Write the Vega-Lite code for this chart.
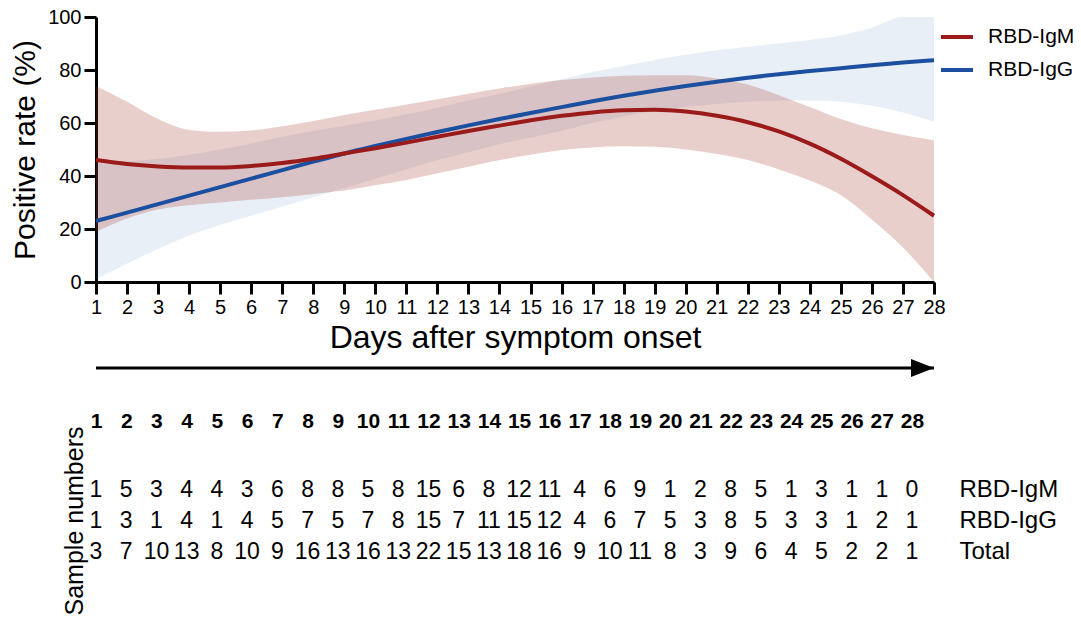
{
  "$schema": "https://vega.github.io/schema/vega-lite/v6.json",
  "padding": {"left": 10, "top": 7, "right": 0, "bottom": 0},
  "config": {
    "font": "Liberation Sans",
    "view": {"stroke": null},
    "axis": {"labelColor": "black", "titleColor": "black", "domainColor": "black", "tickColor": "black", "grid": false}
  },
  "datasets": {
    "days": [
      {"day": 1, "igm": 46, "igmLo": 19, "igmHi": 74, "igg": 23, "iggLo": 1, "iggHi": 45, "igmN": 1, "iggN": 1, "totalN": 3},
      {"day": 2, "igm": 44.5, "igmLo": 24, "igmHi": 68, "igg": 26.2, "iggLo": 7, "iggHi": 45.5, "igmN": 5, "iggN": 3, "totalN": 7},
      {"day": 3, "igm": 43.6, "igmLo": 27.4, "igmHi": 61.5, "igg": 29.4, "iggLo": 12.5, "iggHi": 46.5, "igmN": 3, "iggN": 1, "totalN": 10},
      {"day": 4, "igm": 43.2, "igmLo": 29, "igmHi": 57.4, "igg": 32.6, "iggLo": 17.5, "iggHi": 48, "igmN": 4, "iggN": 4, "totalN": 13},
      {"day": 5, "igm": 43.2, "igmLo": 30, "igmHi": 56.7, "igg": 35.8, "iggLo": 21.5, "iggHi": 50, "igmN": 4, "iggN": 1, "totalN": 8},
      {"day": 6, "igm": 43.8, "igmLo": 31, "igmHi": 57.2, "igg": 39, "iggLo": 25, "iggHi": 52.3, "igmN": 3, "iggN": 4, "totalN": 10},
      {"day": 7, "igm": 44.9, "igmLo": 32, "igmHi": 58.8, "igg": 42.2, "iggLo": 28.5, "iggHi": 54.8, "igmN": 6, "iggN": 5, "totalN": 9},
      {"day": 8, "igm": 46.5, "igmLo": 33.2, "igmHi": 60.8, "igg": 45.4, "iggLo": 32, "iggHi": 57, "igmN": 8, "iggN": 7, "totalN": 16},
      {"day": 9, "igm": 48.5, "igmLo": 34.5, "igmHi": 63, "igg": 48.5, "iggLo": 35.5, "iggHi": 59, "igmN": 8, "iggN": 5, "totalN": 13},
      {"day": 10, "igm": 50.5, "igmLo": 36.5, "igmHi": 65, "igg": 51.3, "iggLo": 39, "iggHi": 61, "igmN": 5, "iggN": 7, "totalN": 16},
      {"day": 11, "igm": 52.6, "igmLo": 38.5, "igmHi": 67, "igg": 54, "iggLo": 42.5, "iggHi": 63.3, "igmN": 8, "iggN": 8, "totalN": 13},
      {"day": 12, "igm": 54.8, "igmLo": 41, "igmHi": 69, "igg": 56.6, "iggLo": 46, "iggHi": 65.8, "igmN": 15, "iggN": 15, "totalN": 22},
      {"day": 13, "igm": 57, "igmLo": 43.5, "igmHi": 71, "igg": 59.1, "iggLo": 49, "iggHi": 68.5, "igmN": 6, "iggN": 7, "totalN": 15},
      {"day": 14, "igm": 59, "igmLo": 46, "igmHi": 73, "igg": 61.5, "iggLo": 52, "iggHi": 71, "igmN": 8, "iggN": 11, "totalN": 13},
      {"day": 15, "igm": 61, "igmLo": 48, "igmHi": 74.8, "igg": 63.8, "iggLo": 54.5, "iggHi": 73.8, "igmN": 12, "iggN": 15, "totalN": 18},
      {"day": 16, "igm": 62.7, "igmLo": 49.8, "igmHi": 76.2, "igg": 66, "iggLo": 57, "iggHi": 76.5, "igmN": 11, "iggN": 12, "totalN": 16},
      {"day": 17, "igm": 64, "igmLo": 50.8, "igmHi": 77.2, "igg": 68.2, "iggLo": 60, "iggHi": 79.2, "igmN": 4, "iggN": 4, "totalN": 9},
      {"day": 18, "igm": 64.8, "igmLo": 51.2, "igmHi": 77.8, "igg": 70.3, "iggLo": 62.5, "iggHi": 81.5, "igmN": 6, "iggN": 6, "totalN": 10},
      {"day": 19, "igm": 65, "igmLo": 51, "igmHi": 78, "igg": 72.2, "iggLo": 64.5, "iggHi": 83.8, "igmN": 9, "iggN": 7, "totalN": 11},
      {"day": 20, "igm": 64.3, "igmLo": 50, "igmHi": 78, "igg": 74, "iggLo": 66, "iggHi": 85.8, "igmN": 1, "iggN": 5, "totalN": 8},
      {"day": 21, "igm": 62.7, "igmLo": 48.3, "igmHi": 76.8, "igg": 75.6, "iggLo": 67.2, "iggHi": 87.5, "igmN": 2, "iggN": 3, "totalN": 3},
      {"day": 22, "igm": 60.3, "igmLo": 46, "igmHi": 74.5, "igg": 77.1, "iggLo": 68, "iggHi": 88.8, "igmN": 8, "iggN": 8, "totalN": 9},
      {"day": 23, "igm": 56.8, "igmLo": 42.5, "igmHi": 70.5, "igg": 78.4, "iggLo": 68.5, "iggHi": 90, "igmN": 5, "iggN": 5, "totalN": 6},
      {"day": 24, "igm": 52.2, "igmLo": 38.3, "igmHi": 66, "igg": 79.6, "iggLo": 68.5, "iggHi": 91.3, "igmN": 1, "iggN": 3, "totalN": 4},
      {"day": 25, "igm": 46.5, "igmLo": 32.8, "igmHi": 61.5, "igg": 80.7, "iggLo": 68, "iggHi": 93, "igmN": 3, "iggN": 3, "totalN": 5},
      {"day": 26, "igm": 39.9, "igmLo": 23.5, "igmHi": 58, "igg": 81.8, "iggLo": 66.5, "iggHi": 96, "igmN": 1, "iggN": 1, "totalN": 2},
      {"day": 27, "igm": 32.8, "igmLo": 13, "igmHi": 55.5, "igg": 82.8, "iggLo": 64, "iggHi": 100, "igmN": 1, "iggN": 2, "totalN": 2},
      {"day": 28, "igm": 25, "igmLo": 0, "igmHi": 53.5, "igg": 83.7, "iggLo": 60.5, "iggHi": 100, "igmN": 0, "iggN": 1, "totalN": 1}
    ]
  },
  "spacing": 6,
  "vconcat": [
    {
      "width": 838,
      "height": 265,
      "data": {"name": "days"},
      "encoding": {
        "x": {"field": "day", "type": "quantitative", "scale": {"domain": [1, 28], "nice": false}, "title": "Days after symptom onset",
          "axis": {"values": [1,2,3,4,5,6,7,8,9,10,11,12,13,14,15,16,17,18,19,20,21,22,23,24,25,26,27,28], "format": "d", "tickSize": 12, "tickWidth": 3, "domainWidth": 3, "labelFontSize": 20, "labelPadding": 3, "labelFlush": false, "labelOverlap": false, "titleFontSize": 32, "titleFontWeight": "normal", "titlePadding": 5}}
      },
      "layer": [
        {
          "mark": {"type": "area", "interpolate": "monotone", "color": "#4a7fc0", "opacity": 0.12},
          "encoding": {
            "y": {"field": "iggLo", "type": "quantitative", "scale": {"domain": [0, 100], "nice": false}, "title": "Positive rate (%)",
              "axis": {"values": [0, 20, 40, 60, 80, 100], "tickSize": 12, "tickWidth": 3, "domainWidth": 3, "labelFontSize": 20, "labelPadding": 3, "titleFontSize": 30, "titleFontWeight": "normal", "titlePadding": 7}},
            "y2": {"field": "iggHi"}
          }
        },
        {
          "mark": {"type": "area", "interpolate": "monotone", "color": "#a03020", "opacity": 0.23},
          "encoding": {
            "y": {"field": "igmLo", "type": "quantitative", "title": "Positive rate (%)",
              "axis": {"values": [0, 20, 40, 60, 80, 100], "tickSize": 12, "tickWidth": 3, "domainWidth": 3, "labelFontSize": 20, "labelPadding": 3, "titleFontSize": 30, "titleFontWeight": "normal", "titlePadding": 7}},
            "y2": {"field": "igmHi"}
          }
        },
        {
          "transform": [{"fold": ["igg", "igm"], "as": ["series", "rate"]}],
          "mark": {"type": "line", "interpolate": "monotone", "strokeWidth": 4},
          "encoding": {
            "y": {"field": "rate", "type": "quantitative", "title": "Positive rate (%)",
              "axis": {"values": [0, 20, 40, 60, 80, 100], "tickSize": 12, "tickWidth": 3, "domainWidth": 3, "labelFontSize": 20, "labelPadding": 3, "titleFontSize": 30, "titleFontWeight": "normal", "titlePadding": 7}},
            "color": {"field": "series", "type": "nominal",
              "scale": {"domain": ["igm", "igg"], "range": ["#9b1b1b", "#1c4fa0"]},
              "legend": {"orient": "none", "legendX": 843, "legendY": 2, "title": null, "padding": 0, "symbolType": "stroke", "symbolSize": 1024, "symbolStrokeWidth": 4, "labelFontSize": 21, "labelColor": "black", "labelOffset": 13, "rowPadding": 5, "labelExpr": "datum.label == 'igm' ? 'RBD-IgM' : 'RBD-IgG'"}}
          }
        }
      ]
    },
    {
      "spacing": 33,
      "vconcat": [
        {
          "width": 838,
          "height": 18,
          "data": {"values": [{"start": 1, "end": 28}]},
          "layer": [
            {
              "mark": {"type": "rule", "strokeWidth": 3, "color": "black"},
              "encoding": {
                "x": {"field": "start", "type": "quantitative", "scale": {"domain": [1, 28], "nice": false}, "axis": null},
                "x2": {"field": "end"}
              }
            },
            {
              "mark": {"type": "point", "shape": "M0,0L-1,-0.39L-1,0.39Z", "size": 2116, "filled": true, "color": "black", "opacity": 1, "strokeWidth": 0},
              "encoding": {
                "x": {"field": "end", "type": "quantitative", "axis": null}
              }
            }
          ]
        },
        {
          "width": 816,
          "height": 93,
          "data": {"name": "days"},
          "transform": [{"fold": ["igmN", "iggN", "totalN"], "as": ["row", "n"]}],
          "layer": [
            {
              "mark": {"type": "text", "fontSize": 23, "color": "black"},
              "encoding": {
                "x": {"field": "day", "type": "quantitative", "scale": {"domain": [1, 28], "nice": false},
                  "axis": {"orient": "top", "values": [1,2,3,4,5,6,7,8,9,10,11,12,13,14,15,16,17,18,19,20,21,22,23,24,25,26,27,28], "format": "d", "labelFontWeight": "bold", "labelFontSize": 21, "domain": false, "ticks": false, "labelPadding": 43, "title": null, "labelFlush": false, "labelOverlap": false}},
                "y": {"field": "row", "type": "nominal", "scale": {"domain": ["igmN", "iggN", "totalN"]},
                  "axis": {"orient": "left", "labels": false, "ticks": false, "domain": false, "title": "Sample numbers", "titleFontSize": 25, "titleFontWeight": "normal", "titlePadding": 9}},
                "text": {"field": "n", "type": "quantitative"}
              }
            },
            {
              "transform": [{"filter": "false"}],
              "mark": {"type": "text", "fontSize": 23},
              "encoding": {
                "y": {"field": "row", "type": "nominal",
                  "axis": {"orient": "right", "ticks": false, "domain": false, "title": null, "labelFontSize": 24, "labelPadding": 47, "labelExpr": "datum.label == 'igmN' ? 'RBD-IgM' : datum.label == 'iggN' ? 'RBD-IgG' : 'Total'"}},
                "text": {"field": "n", "type": "quantitative"}
              }
            }
          ],
          "resolve": {"axis": {"y": "independent"}}
        }
      ]
    }
  ]
}
